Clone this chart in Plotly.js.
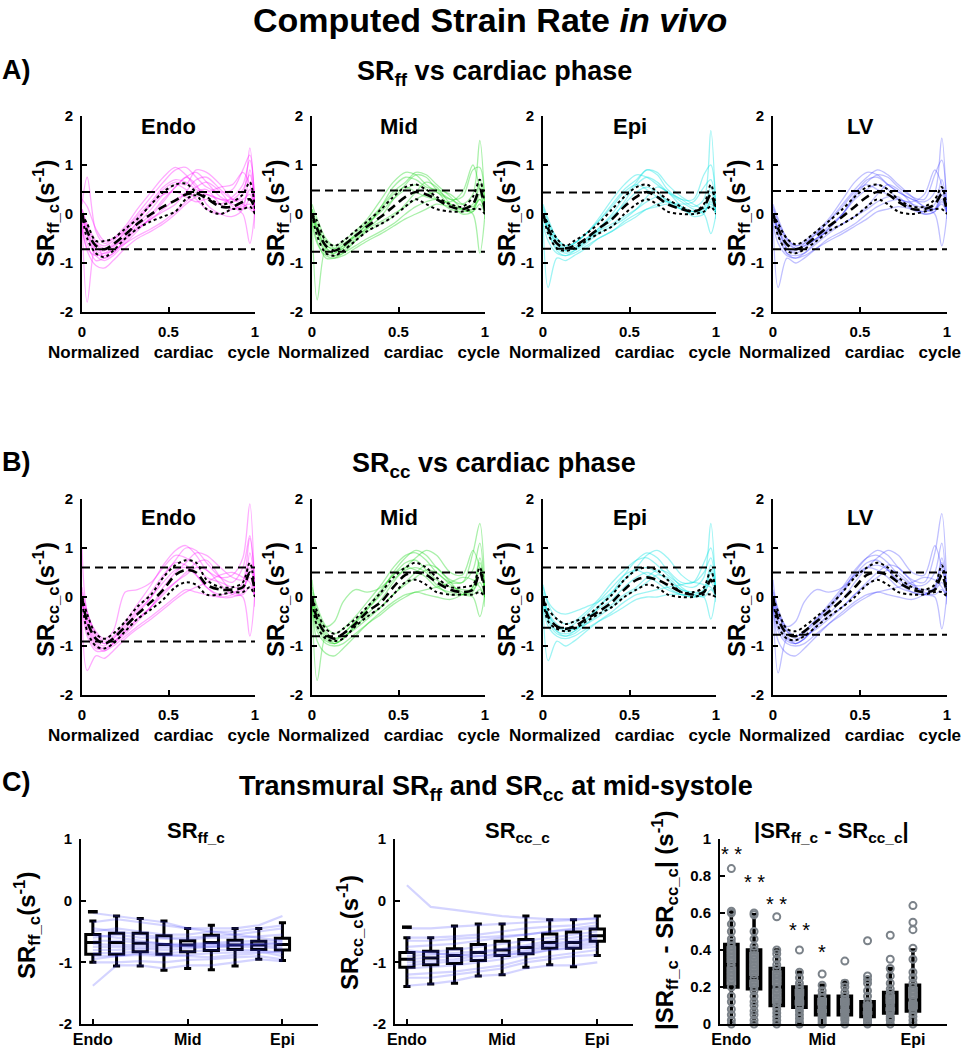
<!DOCTYPE html>
<html>
<head>
<meta charset="utf-8">
<script src="https://cdn.plot.ly/plotly-3.0.1.min.js"></script>
<style>html,body{margin:0;padding:0;background:#fff}#chart{width:980px;height:1050px}</style>
</head>
<body>
<div id="chart"></div>
<script>
// ---------- DATA ----------
const cycleT = [0, 0.03, 0.08, 0.13, 0.18, 0.25, 0.32, 0.4, 0.47, 0.54, 0.6, 0.66, 0.72, 0.8, 0.87, 0.93, 0.97, 1.0];
const cycleTicks = [0, 0.5, 1];
const cycleTickText = ['0', '0.5', '1'];
const regionNames = ['Endo', 'Mid', 'Epi', 'LV'];

// Row A : SRff_c subject curves
const ffEndoSubj = [
 [0.0,-0.45,-0.85,-0.95,-0.85,-0.6,-0.35,-0.05,0.25,0.55,0.75,0.85,0.65,0.35,0.25,0.4,1.35,0.1],
 [0.1,-0.2,-0.55,-0.65,-0.55,-0.3,0.0,0.35,0.65,0.9,0.95,0.75,0.55,0.45,0.5,0.9,1.2,-0.3],
 [-0.2,-0.75,-1.05,-1.1,-0.95,-0.7,-0.5,-0.35,-0.2,0.0,0.2,0.35,0.4,0.3,0.2,0.1,0.3,0.0],
 [0.0,-0.3,-0.7,-0.75,-0.6,-0.4,-0.2,0.1,0.4,0.6,0.5,0.3,0.1,0.0,0.1,0.2,0.5,0.1],
 [0.2,0.75,-0.35,-0.6,-0.5,-0.25,0.1,0.45,0.75,0.95,0.8,0.55,0.45,0.55,0.6,0.85,0.6,0.0],
 [-0.1,-0.6,-0.95,-0.9,-0.8,-0.55,-0.3,-0.1,0.1,0.3,0.4,0.55,0.65,0.45,0.15,0.0,-0.6,0.1],
 [0.0,-0.4,-0.8,-0.85,-0.7,-0.45,-0.25,0.0,0.3,0.55,0.75,0.6,0.2,0.0,-0.05,0.1,0.9,0.2],
 [0.3,0.15,-0.3,-0.55,-0.5,-0.35,-0.1,0.2,0.5,0.65,0.6,0.9,0.85,0.6,0.3,0.2,0.1,0.0],
 [-0.3,-0.7,-0.85,-0.8,-0.75,-0.6,-0.45,-0.3,-0.15,0.05,0.25,0.45,0.5,0.2,0.1,0.15,0.2,0.0],
 [0.0,-1.8,-0.6,-0.9,-0.8,-0.5,-0.15,0.2,0.4,0.45,0.35,0.25,0.3,0.2,0.35,0.6,1.1,0.3],
 [0.0,-0.35,-0.75,-0.8,-0.65,-0.35,-0.05,0.25,0.55,0.7,0.65,0.5,0.4,0.3,0.3,0.5,0.8,0.0],
 [0.1,-0.25,-0.6,-0.7,-0.65,-0.5,-0.3,-0.1,0.05,0.2,0.45,0.7,0.75,0.5,0.3,0.3,0.4,0.05]
];
const ffEndoMean = [0,-0.35,-0.65,-0.72,-0.62,-0.42,-0.2,0.0,0.15,0.28,0.4,0.42,0.32,0.15,0.15,0.25,0.3,0.1];
const ffEndoQ3   = [0,-0.2,-0.55,-0.55,-0.5,-0.3,-0.1,0.2,0.45,0.6,0.62,0.45,0.35,0.2,0.25,0.4,0.65,0.1];
const ffEndoQ1   = [0,-0.5,-0.8,-0.88,-0.75,-0.5,-0.3,-0.15,-0.05,0.05,0.3,0.38,0.1,0.0,0.1,0.1,0.15,0.0];

const ffMidSubj = [
 [0.0,-1.75,-0.7,-0.85,-0.8,-0.55,-0.3,-0.05,0.3,0.6,0.8,0.75,0.5,0.3,0.2,0.4,1.5,0.1],
 [0.2,-0.1,-0.5,-0.65,-0.55,-0.35,-0.1,0.3,0.65,0.85,0.8,0.6,0.45,0.3,0.35,0.9,0.95,-0.1],
 [-0.1,-0.55,-0.9,-0.9,-0.8,-0.65,-0.5,-0.35,-0.2,0.0,0.15,0.25,0.3,0.2,0.1,0.0,-0.8,0.0],
 [0.0,-0.3,-0.7,-0.8,-0.65,-0.45,-0.2,0.05,0.3,0.5,0.6,0.5,0.3,0.1,0.05,0.1,0.6,0.1],
 [0.1,-0.2,-0.6,-0.75,-0.7,-0.5,-0.25,0.15,0.55,0.75,0.7,0.55,0.5,0.4,0.2,0.15,0.3,0.0],
 [0.0,-0.4,-0.8,-0.85,-0.75,-0.55,-0.35,-0.2,-0.05,0.2,0.45,0.65,0.55,0.2,0.0,0.05,0.4,0.05],
 [-0.05,-0.35,-0.75,-0.8,-0.7,-0.45,-0.2,0.1,0.4,0.55,0.45,0.35,0.3,0.25,0.45,1.0,0.5,0.0],
 [0.0,-0.3,-0.65,-0.7,-0.6,-0.45,-0.3,-0.15,0.0,0.15,0.3,0.4,0.45,0.15,0.1,0.2,0.7,0.2],
 [0.1,-0.25,-0.55,-0.7,-0.65,-0.4,-0.15,0.15,0.45,0.65,0.85,0.8,0.6,0.35,0.1,0.05,0.2,0.0],
 [-0.2,-0.6,-0.85,-0.9,-0.85,-0.7,-0.55,-0.4,-0.25,-0.1,0.0,0.1,0.2,0.15,0.1,0.1,0.3,0.05]
];
const ffMidMean = [0,-0.3,-0.65,-0.75,-0.65,-0.45,-0.25,-0.05,0.15,0.35,0.45,0.4,0.3,0.15,0.1,0.2,0.5,0.05];
const ffMidQ3   = [0,-0.15,-0.55,-0.65,-0.55,-0.35,-0.15,0.1,0.35,0.55,0.6,0.5,0.35,0.2,0.15,0.35,0.7,0.1];
const ffMidQ1   = [0,-0.45,-0.8,-0.85,-0.75,-0.55,-0.35,-0.2,-0.05,0.15,0.3,0.2,0.1,0.05,0.05,0.1,0.1,0.0];

const ffEpiSubj = [
 [0.0,-0.35,-0.75,-0.85,-0.75,-0.55,-0.3,0.0,0.35,0.65,0.9,0.8,0.5,0.3,0.3,0.8,1.0,0.1],
 [0.2,-0.1,-0.5,-0.65,-0.6,-0.4,-0.1,0.3,0.6,0.8,0.75,0.6,0.45,0.3,0.15,0.3,1.7,-0.1],
 [-0.1,-1.5,-0.9,-0.95,-0.85,-0.7,-0.5,-0.35,-0.15,0.0,0.1,0.2,0.25,0.15,0.05,0.0,-0.4,0.0],
 [0.0,-0.3,-0.65,-0.75,-0.7,-0.5,-0.3,-0.05,0.2,0.45,0.55,0.45,0.25,0.1,0.05,0.1,0.45,0.05],
 [0.1,-0.2,-0.55,-0.7,-0.7,-0.55,-0.35,-0.1,0.25,0.6,0.75,0.65,0.45,0.25,0.1,0.05,0.25,0.0],
 [0.0,-0.4,-0.7,-0.8,-0.75,-0.6,-0.4,-0.25,-0.1,0.1,0.35,0.55,0.45,0.15,-0.05,0.0,0.3,0.1],
 [-0.05,-0.3,-0.6,-0.75,-0.6,-0.4,-0.15,0.15,0.45,0.6,0.5,0.35,0.25,0.2,0.25,0.55,0.7,0.0],
 [0.0,-0.25,-0.6,-0.7,-0.65,-0.5,-0.35,-0.2,-0.05,0.1,0.25,0.35,0.3,0.1,0.0,0.05,0.2,0.05],
 [0.15,-0.15,-0.5,-0.65,-0.6,-0.4,-0.15,0.2,0.5,0.7,0.9,0.85,0.6,0.35,0.2,0.1,0.15,0.0],
 [-0.2,-0.55,-0.8,-0.85,-0.8,-0.65,-0.5,-0.35,-0.2,-0.05,0.1,0.15,0.2,0.1,0.05,0.15,0.55,0.1]
];
const ffEpiMean = [0,-0.3,-0.6,-0.7,-0.65,-0.5,-0.3,-0.1,0.15,0.35,0.45,0.35,0.2,0.1,0.05,0.15,0.4,0.05];
const ffEpiQ3   = [0,-0.2,-0.5,-0.65,-0.55,-0.4,-0.2,0.1,0.35,0.55,0.6,0.45,0.3,0.15,0.05,0.2,0.6,0.1];
const ffEpiQ1   = [0,-0.4,-0.7,-0.75,-0.7,-0.55,-0.4,-0.25,0.0,0.2,0.3,0.2,0.05,0.0,0.0,0.05,0.15,0.0];

const ffLVSubj = [
 [0.0,-0.4,-0.8,-0.9,-0.8,-0.55,-0.3,0.0,0.35,0.65,0.8,0.75,0.55,0.35,0.3,0.8,1.1,0.1],
 [0.2,-0.1,-0.5,-0.65,-0.55,-0.35,-0.1,0.3,0.65,0.85,0.8,0.6,0.45,0.3,0.25,0.45,1.55,-0.1],
 [-0.1,-1.5,-0.9,-1.0,-0.9,-0.7,-0.5,-0.35,-0.2,0.0,0.15,0.25,0.3,0.2,0.1,0.0,-0.65,0.0],
 [0.0,-0.3,-0.7,-0.8,-0.7,-0.5,-0.25,0.0,0.3,0.5,0.6,0.5,0.3,0.1,0.05,0.1,0.5,0.05],
 [0.1,-0.2,-0.55,-0.7,-0.65,-0.5,-0.3,0.0,0.4,0.7,0.75,0.6,0.45,0.3,0.15,0.1,0.3,0.0],
 [0.0,-0.45,-0.8,-0.85,-0.8,-0.6,-0.4,-0.2,-0.05,0.15,0.4,0.6,0.5,0.2,0.0,0.05,0.4,0.1],
 [-0.05,-0.3,-0.7,-0.75,-0.6,-0.4,-0.15,0.15,0.45,0.6,0.5,0.4,0.3,0.25,0.4,0.9,0.6,0.0],
 [0.0,-0.3,-0.6,-0.7,-0.65,-0.5,-0.35,-0.2,-0.05,0.1,0.25,0.35,0.35,0.1,0.0,0.05,0.25,0.05],
 [0.15,-0.15,-0.5,-0.65,-0.6,-0.4,-0.15,0.2,0.5,0.75,0.9,0.8,0.6,0.35,0.15,0.1,0.2,0.0],
 [-0.2,-0.6,-0.85,-0.9,-0.85,-0.7,-0.55,-0.4,-0.25,-0.1,0.05,0.1,0.15,0.1,0.05,0.2,0.7,0.1]
];
const ffLVMean = [0,-0.3,-0.62,-0.72,-0.65,-0.45,-0.25,-0.05,0.15,0.35,0.45,0.4,0.25,0.1,0.1,0.2,0.4,0.05];
const ffLVQ3   = [0,-0.2,-0.5,-0.62,-0.55,-0.35,-0.15,0.1,0.35,0.55,0.6,0.5,0.3,0.15,0.15,0.3,0.55,0.1];
const ffLVQ1   = [0,-0.45,-0.75,-0.8,-0.72,-0.55,-0.35,-0.2,-0.05,0.15,0.3,0.2,0.05,0.0,0.05,0.1,0.1,0.0];

const ffLimits = [[0.45,-0.72],[0.48,-0.77],[0.44,-0.71],[0.47,-0.72]];

// Row B : SRcc_c subject curves
const ccEndoSubj = [
 [0.0,-0.6,-1.0,-1.1,-0.95,-0.65,-0.35,0.0,0.4,0.75,1.0,0.95,0.7,0.4,0.3,0.6,1.25,0.1],
 [0.2,-0.3,-0.75,-0.9,-0.8,-0.5,-0.15,0.25,0.65,0.95,1.05,0.85,0.55,0.4,0.45,0.8,1.9,-0.2],
 [-0.2,-1.5,-1.2,-1.25,-1.1,-0.85,-0.65,-0.45,-0.25,-0.05,0.1,0.2,0.3,0.45,0.5,0.4,0.3,0.0],
 [0.0,-0.45,-0.85,-0.95,-0.85,-0.6,-0.3,0.0,0.3,0.55,0.6,0.45,0.2,0.05,0.1,0.15,0.6,0.1],
 [1.0,-0.3,-0.7,-0.85,-0.7,0.1,0.15,0.3,0.6,0.85,0.8,0.65,0.4,0.3,0.2,0.2,0.4,0.0],
 [-0.1,-0.7,-1.05,-1.05,-0.95,-0.7,-0.45,-0.2,0.05,0.3,0.5,0.7,0.75,0.4,0.1,0.0,-0.8,0.1],
 [0.0,-0.5,-0.9,-1.0,-0.85,-0.55,-0.25,0.1,0.45,0.7,0.65,0.45,0.2,0.0,0.0,0.1,0.9,0.2],
 [0.1,-0.35,-0.8,-0.95,-0.9,-0.7,-0.45,-0.2,0.1,0.3,0.45,0.6,0.55,0.25,0.05,0.05,0.2,0.0],
 [0.0,-0.55,-0.95,-1.05,-0.95,-0.75,-0.5,-0.2,0.2,0.5,0.7,0.9,0.85,0.6,0.4,0.35,0.7,0.1],
 [-0.3,-0.8,-1.1,-1.1,-1.0,-0.8,-0.6,-0.4,-0.2,0.0,0.15,0.1,0.05,0.0,0.05,0.3,1.2,0.2]
];
const ccEndoMean = [0,-0.5,-0.85,-0.95,-0.85,-0.6,-0.35,-0.1,0.15,0.45,0.55,0.5,0.25,0.15,0.15,0.2,0.5,0.1];
const ccEndoQ3   = [0,-0.35,-0.75,-0.85,-0.75,-0.5,-0.2,0.05,0.4,0.65,0.75,0.7,0.35,0.2,0.2,0.3,0.7,0.1];
const ccEndoQ1   = [0,-0.7,-1.0,-1.05,-0.95,-0.7,-0.45,-0.25,-0.05,0.2,0.3,0.25,0.05,0.05,0.1,0.1,0.2,0.0];

const ccMidSubj = [
 [0.0,-1.7,-0.8,-0.95,-0.85,-0.55,-0.25,0.1,0.5,0.8,0.95,0.85,0.6,0.35,0.3,0.9,1.5,0.1],
 [0.2,-0.2,-0.6,-0.75,-0.65,-0.4,-0.1,0.25,0.6,0.85,0.9,0.75,0.5,0.3,0.3,0.55,1.1,-0.2],
 [-0.1,-0.9,-1.15,-1.2,-1.05,-0.8,-0.55,-0.3,-0.1,0.05,0.1,0.15,0.2,0.3,0.4,0.35,0.2,0.0],
 [0.0,-0.4,-0.75,-0.85,-0.75,-0.5,-0.25,0.05,0.35,0.55,0.6,0.5,0.25,0.05,0.05,0.1,0.6,0.1],
 [0.35,-0.3,-0.6,-0.5,-0.1,0.15,0.1,0.2,0.45,0.7,0.75,0.55,0.35,0.2,0.15,0.15,0.3,0.0],
 [-0.1,-0.6,-0.9,-0.95,-0.85,-0.6,-0.4,-0.2,0.05,0.3,0.5,0.65,0.6,0.3,0.05,0.0,-0.4,0.1],
 [0.0,-0.45,-0.8,-0.9,-0.75,-0.5,-0.2,0.15,0.45,0.6,0.55,0.4,0.2,0.1,0.05,0.2,0.7,0.15],
 [0.1,-0.35,-0.7,-0.85,-0.8,-0.65,-0.45,-0.2,0.05,0.25,0.4,0.55,0.5,0.25,0.1,0.05,0.15,0.0],
 [0.0,-0.5,-0.85,-0.95,-0.85,-0.6,-0.35,-0.05,0.3,0.6,0.8,0.95,0.85,0.5,0.45,0.95,0.6,0.1],
 [-0.2,-0.7,-0.95,-1.0,-0.95,-0.75,-0.55,-0.35,-0.15,0.0,0.1,0.05,0.0,-0.05,0.05,0.2,0.8,0.1]
];
const ccMidMean = [0,-0.45,-0.75,-0.85,-0.75,-0.55,-0.3,-0.1,0.2,0.45,0.5,0.45,0.3,0.15,0.1,0.15,0.5,0.05];
const ccMidQ3   = [0,-0.3,-0.65,-0.75,-0.65,-0.45,-0.2,0.1,0.4,0.6,0.7,0.6,0.4,0.2,0.2,0.25,0.6,0.1];
const ccMidQ1   = [0,-0.6,-0.85,-0.9,-0.85,-0.6,-0.4,-0.2,0.05,0.3,0.35,0.25,0.1,0.05,0.05,0.05,0.1,0.0];

const ccEpiSubj = [
 [0.0,-0.4,-0.7,-0.8,-0.7,-0.5,-0.2,0.1,0.45,0.75,0.9,0.8,0.55,0.3,0.3,0.7,1.0,0.1],
 [0.2,-0.15,-0.45,-0.55,-0.5,-0.3,-0.05,0.3,0.55,0.75,0.8,0.65,0.45,0.25,0.2,0.4,1.5,-0.1],
 [-0.1,-1.3,-0.9,-1.0,-0.9,-0.7,-0.5,-0.3,-0.1,0.05,0.1,0.15,0.2,0.25,0.3,0.25,0.2,0.0],
 [0.0,-0.35,-0.6,-0.7,-0.65,-0.45,-0.25,-0.05,0.2,0.4,0.5,0.4,0.2,0.05,0.0,0.05,0.5,0.05],
 [0.25,-0.1,-0.3,-0.35,-0.3,-0.2,-0.1,0.1,0.35,0.55,0.6,0.5,0.35,0.15,0.1,0.1,0.3,0.0],
 [-0.1,-0.5,-0.75,-0.8,-0.75,-0.55,-0.35,-0.15,0.05,0.2,0.4,0.55,0.5,0.2,0.05,0.0,-0.45,0.1],
 [0.0,-0.35,-0.6,-0.65,-0.55,-0.35,-0.1,0.2,0.45,0.55,0.45,0.3,0.15,0.05,0.0,0.15,0.65,0.1],
 [0.1,-0.3,-0.55,-0.65,-0.65,-0.55,-0.4,-0.2,0.0,0.15,0.3,0.45,0.4,0.15,0.05,0.0,0.15,0.0],
 [0.0,-0.45,-0.7,-0.75,-0.7,-0.45,-0.2,0.05,0.35,0.6,0.85,0.95,0.8,0.45,0.3,0.5,0.8,0.1],
 [-0.2,-0.6,-0.8,-0.85,-0.8,-0.65,-0.5,-0.35,-0.2,-0.05,0.0,0.0,0.05,0.05,0.05,0.15,0.55,0.05]
];
const ccEpiMean = [0,-0.4,-0.6,-0.65,-0.6,-0.45,-0.3,-0.1,0.15,0.35,0.4,0.35,0.25,0.1,0.05,0.1,0.35,0.05];
const ccEpiQ3   = [0,-0.25,-0.45,-0.55,-0.5,-0.4,-0.2,0.05,0.35,0.55,0.6,0.55,0.35,0.1,0.1,0.2,0.55,0.05];
const ccEpiQ1   = [0,-0.5,-0.65,-0.7,-0.65,-0.5,-0.35,-0.2,0.0,0.15,0.25,0.2,0.05,0.0,0.0,0.05,0.05,0.0];

const ccLVSubj = [
 [0.0,-1.55,-0.85,-0.95,-0.85,-0.55,-0.25,0.1,0.5,0.8,0.95,0.85,0.6,0.35,0.3,0.9,1.7,0.1],
 [0.15,-0.25,-0.65,-0.8,-0.7,-0.45,-0.15,0.2,0.55,0.8,0.85,0.7,0.45,0.25,0.25,0.5,1.1,-0.15],
 [-0.1,-0.9,-1.15,-1.2,-1.05,-0.8,-0.55,-0.3,-0.1,0.05,0.1,0.15,0.2,0.3,0.4,0.35,0.2,0.0],
 [0.0,-0.35,-0.7,-0.8,-0.7,-0.45,-0.2,0.1,0.4,0.6,0.65,0.55,0.3,0.1,0.05,0.15,0.55,0.1],
 [0.35,-0.3,-0.6,-0.5,-0.1,0.15,0.1,0.2,0.45,0.7,0.75,0.55,0.35,0.2,0.15,0.15,0.3,0.0],
 [-0.1,-0.6,-0.9,-0.95,-0.85,-0.6,-0.4,-0.2,0.05,0.3,0.5,0.65,0.6,0.3,0.05,0.0,-0.65,0.1],
 [0.0,-0.45,-0.8,-0.9,-0.75,-0.5,-0.2,0.15,0.45,0.6,0.55,0.4,0.2,0.1,0.05,0.2,0.7,0.15],
 [0.1,-0.35,-0.7,-0.85,-0.8,-0.65,-0.45,-0.2,0.05,0.25,0.4,0.55,0.5,0.25,0.1,0.05,0.15,0.0],
 [0.0,-0.5,-0.85,-0.95,-0.85,-0.6,-0.35,-0.05,0.3,0.6,0.8,0.95,0.85,0.5,0.45,1.05,0.6,0.1],
 [-0.2,-0.7,-0.95,-1.0,-0.95,-0.75,-0.55,-0.35,-0.15,0.0,0.1,0.05,0.0,-0.05,0.05,0.2,0.8,0.1]
];
const ccLVMean = [0,-0.45,-0.75,-0.8,-0.7,-0.5,-0.3,-0.05,0.2,0.45,0.5,0.45,0.3,0.15,0.1,0.15,0.45,0.05];
const ccLVQ3   = [0,-0.3,-0.65,-0.7,-0.6,-0.4,-0.2,0.1,0.4,0.6,0.7,0.6,0.4,0.2,0.15,0.25,0.65,0.1];
const ccLVQ1   = [0,-0.6,-0.85,-0.88,-0.8,-0.6,-0.4,-0.2,0.0,0.25,0.35,0.25,0.1,0.05,0.05,0.1,0.1,0.0];

const ccLimits = [[0.6,-0.91],[0.5,-0.8],[0.6,-0.63],[0.5,-0.77]];

// Row C : transmural positions (Endo -> Epi)
const transPos = [1, 2, 3, 4, 5, 6, 7, 8, 9];
const transTickPos = [1, 5, 9];
const transTickText = ['Endo', 'Mid', 'Epi'];

const ffTransLines = [
 [-0.35,-0.3,-0.35,-0.4,-0.45,-0.45,-0.45,-0.4,-0.25],
 [-0.5,-0.45,-0.5,-0.55,-0.55,-0.5,-0.5,-0.45,-0.4],
 [-0.6,-0.55,-0.6,-0.62,-0.63,-0.6,-0.6,-0.58,-0.55],
 [-0.65,-0.65,-0.68,-0.7,-0.7,-0.68,-0.66,-0.65,-0.65],
 [-0.7,-0.72,-0.72,-0.73,-0.72,-0.7,-0.7,-0.7,-0.7],
 [-0.75,-0.75,-0.75,-0.76,-0.74,-0.72,-0.72,-0.72,-0.75],
 [-0.8,-0.8,-0.78,-0.8,-0.78,-0.75,-0.75,-0.75,-0.78],
 [-0.85,-0.85,-0.82,-0.85,-0.83,-0.8,-0.8,-0.8,-0.85],
 [-0.9,-0.9,-0.88,-0.9,-0.88,-0.85,-0.84,-0.82,-0.9],
 [-1.0,-1.0,-0.98,-1.0,-0.96,-0.95,-0.92,-0.9,-0.95],
 [-1.38,-1.05,-1.05,-1.1,-1.05,-1.05,-1.0,-0.95,-0.98],
 [-0.55,-0.6,-0.65,-0.7,-0.75,-0.75,-0.72,-0.7,-0.68],
 [-0.45,-0.5,-0.55,-0.6,-0.6,-0.58,-0.55,-0.5,-0.45],
 [-0.95,-0.9,-0.85,-0.88,-0.9,-0.92,-0.88,-0.85,-0.82],
 [-0.2,-0.25,-0.3,-0.35,-0.45,-0.5,-0.55,-0.6,-0.65]
];
const ffBoxLow  = [-1.0,-1.06,-1.06,-1.13,-1.1,-1.12,-1.06,-0.95,-0.97];
const ffBoxQ1   = [-0.87,-0.87,-0.83,-0.87,-0.83,-0.81,-0.79,-0.79,-0.8];
const ffBoxMed  = [-0.68,-0.68,-0.69,-0.71,-0.72,-0.68,-0.72,-0.72,-0.71];
const ffBoxQ3   = [-0.55,-0.53,-0.53,-0.57,-0.65,-0.56,-0.64,-0.66,-0.61];
const ffBoxHigh = [-0.33,-0.25,-0.29,-0.33,-0.45,-0.4,-0.45,-0.45,-0.36];
const ffOutPos = [1];
const ffOutVal = [-0.18];

const ccTransLines = [
 [0.25,-0.1,-0.15,-0.2,-0.25,-0.28,-0.3,-0.3,-0.3],
 [-0.45,-0.45,-0.42,-0.4,-0.38,-0.35,-0.33,-0.31,-0.28],
 [-0.6,-0.6,-0.58,-0.55,-0.5,-0.45,-0.42,-0.4,-0.35],
 [-0.75,-0.72,-0.7,-0.65,-0.6,-0.55,-0.5,-0.47,-0.45],
 [-0.85,-0.82,-0.8,-0.75,-0.7,-0.65,-0.6,-0.55,-0.5],
 [-0.9,-0.88,-0.85,-0.82,-0.78,-0.72,-0.65,-0.6,-0.55],
 [-0.95,-0.93,-0.9,-0.85,-0.8,-0.75,-0.7,-0.65,-0.6],
 [-1.0,-0.98,-0.95,-0.9,-0.85,-0.8,-0.72,-0.68,-0.62],
 [-1.05,-1.02,-0.98,-0.95,-0.9,-0.83,-0.75,-0.72,-0.66],
 [-1.1,-1.08,-1.05,-1.0,-0.95,-0.88,-0.8,-0.75,-0.7],
 [-1.2,-1.18,-1.15,-1.1,-1.05,-0.95,-0.9,-0.85,-0.8],
 [-1.38,-1.35,-1.3,-1.22,-1.2,-1.1,-1.05,-1.05,-1.0],
 [-1.25,-1.25,-1.2,-1.15,-1.1,-1.0,-0.95,-0.9,-0.88],
 [-0.8,-0.85,-0.88,-0.9,-0.88,-0.85,-0.8,-0.78,-0.75],
 [-0.65,-0.65,-0.62,-0.6,-0.58,-0.55,-0.5,-0.45,-0.4]
];
const ccBoxLow  = [-1.39,-1.35,-1.34,-1.22,-1.2,-1.08,-1.04,-1.07,-0.89];
const ccBoxQ1   = [-1.08,-1.04,-1.02,-0.97,-0.89,-0.86,-0.77,-0.77,-0.66];
const ccBoxMed  = [-0.95,-0.93,-0.89,-0.84,-0.8,-0.76,-0.68,-0.68,-0.57];
const ccBoxQ3   = [-0.84,-0.82,-0.78,-0.71,-0.66,-0.63,-0.54,-0.51,-0.46];
const ccBoxHigh = [-0.6,-0.6,-0.41,-0.38,-0.38,-0.25,-0.31,-0.31,-0.25];
const ccOutPos = [1];
const ccOutVal = [-0.43];

// |SRff_c - SRcc_c| per transmural position
const diffPoints = [
 [0.84,0.61,0.60,0.54,0.5,0.46,0.44,0.42,0.4,0.38,0.36,0.34,0.32,0.3,0.28,0.26,0.24,0.2,0.15,0.12,0.08,0.05,0.02,0.0],
 [0.6,0.59,0.5,0.46,0.42,0.4,0.37,0.35,0.32,0.3,0.27,0.25,0.22,0.2,0.18,0.15,0.12,0.1,0.07,0.05,0.02,0.0],
 [0.58,0.4,0.38,0.35,0.32,0.3,0.27,0.25,0.23,0.21,0.19,0.17,0.14,0.12,0.1,0.08,0.06,0.04,0.02,0.0],
 [0.4,0.28,0.25,0.22,0.2,0.18,0.16,0.15,0.14,0.13,0.12,0.1,0.09,0.07,0.05,0.03,0.01,0.0],
 [0.27,0.21,0.18,0.16,0.14,0.12,0.11,0.1,0.09,0.08,0.07,0.06,0.05,0.04,0.03,0.02,0.01,0.0],
 [0.34,0.22,0.2,0.17,0.15,0.13,0.12,0.11,0.1,0.09,0.08,0.07,0.06,0.05,0.04,0.03,0.02,0.0],
 [0.45,0.26,0.24,0.22,0.18,0.15,0.12,0.1,0.09,0.08,0.07,0.06,0.05,0.04,0.03,0.02,0.01,0.0],
 [0.48,0.35,0.3,0.26,0.22,0.19,0.17,0.15,0.13,0.11,0.1,0.09,0.08,0.07,0.06,0.04,0.03,0.02,0.0],
 [0.64,0.55,0.51,0.41,0.35,0.28,0.25,0.22,0.2,0.18,0.16,0.14,0.12,0.11,0.1,0.09,0.08,0.06,0.04,0.02,0.0]
];
const diffBoxLow  = [0.01,0.01,0.0,0.0,0.0,0.0,0.0,0.0,0.0];
const diffBoxQ1   = [0.2,0.19,0.1,0.09,0.05,0.05,0.04,0.06,0.07];
const diffBoxMed  = [0.32,0.25,0.2,0.14,0.09,0.09,0.08,0.1,0.13];
const diffBoxQ3   = [0.43,0.4,0.3,0.2,0.15,0.15,0.12,0.17,0.21];
const diffBoxHigh = [0.61,0.59,0.4,0.28,0.21,0.23,0.25,0.3,0.4];
const sigPos   = [1, 2, 3, 4, 5];
const sigLevel = [0.94, 0.79, 0.67, 0.53, 0.41];
const sigText  = ['* *', '* *', '* *', '* *', '*'];

// ---------- DRAWING ----------
const FONT = '"Liberation Sans", Arial, Helvetica, sans-serif';
const W = 980, H = 1050;
const traces = [];
const layout = {
  width: W, height: H, margin: {l: 0, r: 0, t: 0, b: 0},
  paper_bgcolor: 'white', plot_bgcolor: 'rgba(0,0,0,0)',
  showlegend: false, font: {family: FONT, color: 'black'},
  annotations: []
};
function axName(i) { return i === 1 ? '' : String(i); }
function baseAxis(extra) {
  return Object.assign({
    showline: true, linecolor: 'black', linewidth: 2, mirror: false,
    showgrid: false, zeroline: false, ticks: 'inside', ticklen: 5, tickwidth: 2, tickcolor: 'black',
    tickfont: {family: FONT, size: 15, color: 'black', weight: 'bold'}, fixedrange: true
  }, extra);
}
function setPanel(i, px0, px1, py0, py1, xextra, yextra) {
  layout['xaxis' + axName(i)] = baseAxis(Object.assign({domain: [px0 / W, px1 / W], anchor: 'y' + axName(i)}, xextra));
  layout['yaxis' + axName(i)] = baseAxis(Object.assign({domain: [1 - py1 / H, 1 - py0 / H], anchor: 'x' + axName(i)}, yextra));
}
function ann(text, xpx, ypx, size, extra) {
  layout.annotations.push(Object.assign({
    xref: 'paper', yref: 'paper', x: xpx / W, y: 1 - ypx / H, text: text, showarrow: false,
    font: {family: FONT, size: size, color: 'black'}, xanchor: 'center', yanchor: 'middle'
  }, extra || {}));
}

const colsAB = [[82, 255], [312, 485], [543, 716], [773, 947]];
const rowA = [116, 312], rowB = [499, 695];
const regionColors = ['rgba(255,0,255,0.33)', 'rgba(30,215,30,0.38)', 'rgba(0,225,225,0.38)', 'rgba(30,30,255,0.28)'];

function cyclePanel(i, subj, mean, q1, q3, lim, color) {
  const xa = 'x' + axName(i), ya = 'y' + axName(i);
  subj.forEach(s => traces.push({type: 'scatter', mode: 'lines', x: cycleT, y: s, xaxis: xa, yaxis: ya,
    line: {color: color, width: 1.3, shape: 'spline', smoothing: 0.9}, hoverinfo: 'skip'}));
  [q1, q3].forEach(q => traces.push({type: 'scatter', mode: 'lines', x: cycleT, y: q, xaxis: xa, yaxis: ya,
    line: {color: 'black', width: 2, dash: 'dot', shape: 'spline', smoothing: 0.9}, hoverinfo: 'skip'}));
  traces.push({type: 'scatter', mode: 'lines', x: cycleT, y: mean, xaxis: xa, yaxis: ya,
    line: {color: 'black', width: 2.6, dash: '9px,5px', shape: 'spline', smoothing: 0.9}, hoverinfo: 'skip'});
  lim.forEach(v => traces.push({type: 'scatter', mode: 'lines', x: [0, 1], y: [v, v], xaxis: xa, yaxis: ya,
    line: {color: 'black', width: 2, dash: '8px,5px'}, hoverinfo: 'skip'}));
}

const ffSets = [[ffEndoSubj, ffEndoMean, ffEndoQ1, ffEndoQ3], [ffMidSubj, ffMidMean, ffMidQ1, ffMidQ3],
                [ffEpiSubj, ffEpiMean, ffEpiQ1, ffEpiQ3], [ffLVSubj, ffLVMean, ffLVQ1, ffLVQ3]];
const ccSets = [[ccEndoSubj, ccEndoMean, ccEndoQ1, ccEndoQ3], [ccMidSubj, ccMidMean, ccMidQ1, ccMidQ3],
                [ccEpiSubj, ccEpiMean, ccEpiQ1, ccEpiQ3], [ccLVSubj, ccLVMean, ccLVQ1, ccLVQ3]];

const cycX = {range: [0, 1], tickvals: cycleTicks, ticktext: cycleTickText, ticklabelstandoff: 5};
const cycY = {range: [-2, 2], tickvals: [-2, -1, 0, 1, 2], ticktext: ['-2', '-1', '0', '1', '2'], ticklabelstandoff: 4};
const xlabelText = '<b>Normalized\u00a0\u00a0\u00a0cardiac\u00a0\u00a0\u00a0cycle</b>';

for (let k = 0; k < 4; k++) {
  const [c0, c1] = colsAB[k];
  const cx = (c0 + c1) / 2;
  // row A
  setPanel(k + 1, c0, c1, rowA[0], rowA[1], cycX, cycY);
  cyclePanel(k + 1, ffSets[k][0], ffSets[k][1], ffSets[k][2], ffSets[k][3], ffLimits[k], regionColors[k]);
  ann('<b>' + regionNames[k] + '</b>', cx, 127, 22);
  ann('<b>SR<sub>ff_c</sub>(s<sup>-1</sup>)</b>', c0 - 36, 214, 24, {textangle: -90});
  ann(xlabelText, cx - 10, 352, 17);
  // row B
  setPanel(k + 5, c0, c1, rowB[0], rowB[1], cycX, cycY);
  cyclePanel(k + 5, ccSets[k][0], ccSets[k][1], ccSets[k][2], ccSets[k][3], ccLimits[k], regionColors[k]);
  ann('<b>' + regionNames[k] + '</b>', cx, 517, 22);
  ann('<b>SR<sub>cc_c</sub>(s<sup>-1</sup>)</b>', c0 - 36, 600, 24, {textangle: -90});
  ann(xlabelText, cx - 10, 735, 17);
}

// Row C panels
const transX = {range: [0.5, 10.5], tickvals: transTickPos, ticktext: transTickText, ticklabelstandoff: 0,
  tickfont: {family: FONT, size: 16, color: 'black', weight: 'bold'}};
setPanel(9, 81, 318, 839, 1024, transX, {range: [-2, 1], tickvals: [-2, -1, 0, 1], ticktext: ['-2', '-1', '0', '1'], ticklabelstandoff: 4});
setPanel(10, 395, 633, 839, 1024, transX, {range: [-2, 1], tickvals: [-2, -1, 0, 1], ticktext: ['-2', '-1', '0', '1'], ticklabelstandoff: 4});
setPanel(11, 720, 947, 839, 1024, transX, {range: [0, 1], tickvals: [0, 0.2, 0.4, 0.6, 0.8, 1], ticktext: ['0', '0.2', '0.4', '0.6', '0.8', '1'], ticklabelstandoff: 4});

const transLineColor = 'rgba(60,60,255,0.22)';
function transPanel(i, lines, low, q1, med, q3, high, outPos, outVal) {
  const xa = 'x' + axName(i), ya = 'y' + axName(i);
  lines.forEach(l => traces.push({type: 'scatter', mode: 'lines', x: transPos, y: l, xaxis: xa, yaxis: ya,
    line: {color: transLineColor, width: 2.2}, hoverinfo: 'skip'}));
  traces.push({type: 'box', x: transPos, q1: q1, median: med, q3: q3, lowerfence: low, upperfence: high,
    xaxis: xa, yaxis: ya, boxpoints: false, width: 0.6, whiskerwidth: 0.5,
    line: {color: 'black', width: 3}, fillcolor: 'rgba(255,255,255,0.85)', hoverinfo: 'skip'});
  traces.push({type: 'scatter', mode: 'markers', x: outPos, y: outVal, xaxis: xa, yaxis: ya,
    marker: {symbol: 'line-ew', size: 7, line: {color: 'black', width: 3.5}}, hoverinfo: 'skip'});
}
transPanel(9, ffTransLines, ffBoxLow, ffBoxQ1, ffBoxMed, ffBoxQ3, ffBoxHigh, ffOutPos, ffOutVal);
transPanel(10, ccTransLines, ccBoxLow, ccBoxQ1, ccBoxMed, ccBoxQ3, ccBoxHigh, ccOutPos, ccOutVal);

// panel 11: difference boxes + points
traces.push({type: 'box', x: transPos, q1: diffBoxQ1, median: diffBoxMed, q3: diffBoxQ3,
  lowerfence: diffBoxLow, upperfence: diffBoxHigh, xaxis: 'x11', yaxis: 'y11', boxpoints: false,
  width: 0.58, whiskerwidth: 0.5, line: {color: 'black', width: 3.5}, fillcolor: '#8b9096', hoverinfo: 'skip'});
const dX = [], dY = [];
diffPoints.forEach((arr, j) => arr.forEach(v => { dX.push(transPos[j]); dY.push(v); }));
traces.push({type: 'scatter', mode: 'markers', x: dX, y: dY, xaxis: 'x11', yaxis: 'y11', cliponaxis: false,
  marker: {symbol: 'circle-open', size: 7, color: '#7b8289', line: {color: '#7b8289', width: 2}}, hoverinfo: 'skip'});
sigPos.forEach((p, j) => layout.annotations.push({xref: 'x11', yref: 'y11', x: p, y: sigLevel[j] - 0.02,
  text: sigText[j], showarrow: false, font: {family: FONT, size: 20, color: 'black'}, xanchor: 'center', yanchor: 'middle'}));

// Titles and labels
ann('<b>Computed Strain Rate <i>in vivo</i></b>', 490, 20, 34);
ann('<b>A)</b>', 0, 70, 27, {xanchor: 'left'});
ann('<b>SR<sub>ff</sub> vs cardiac phase</b>', 494, 73, 27);
ann('<b>B)</b>', 0, 462, 27, {xanchor: 'left'});
ann('<b>SR<sub>cc</sub> vs cardiac phase</b>', 494, 465, 27);
ann('<b>C)</b>', 0, 782, 27, {xanchor: 'left'});
ann('<b>Transmural SR<sub>ff</sub> and SR<sub>cc</sub> at mid-systole</b>', 496, 788, 27);

ann('<b>SR<sub>ff_c</sub></b>', 196, 832, 22);
ann('<b>SR<sub>cc_c</sub></b>', 517, 832, 22);
ann('<b>|SR<sub>ff_c</sub> - SR<sub>cc_c</sub>|</b>', 831, 832, 22);
ann('<b>SR<sub>ff_c</sub>(s<sup>-1</sup>)</b>', 27, 926, 24, {textangle: -90});
ann('<b>SR<sub>cc_c</sub>(s<sup>-1</sup>)</b>', 350, 933, 24, {textangle: -90});
ann('<b>|SR<sub>ff_c</sub> - SR<sub>cc_c</sub>| (s<sup>-1</sup>)</b>', 665, 920, 24, {textangle: -90});

Plotly.newPlot('chart', traces, layout, {staticPlot: true, displayModeBar: false});
</script>
</body>
</html>
